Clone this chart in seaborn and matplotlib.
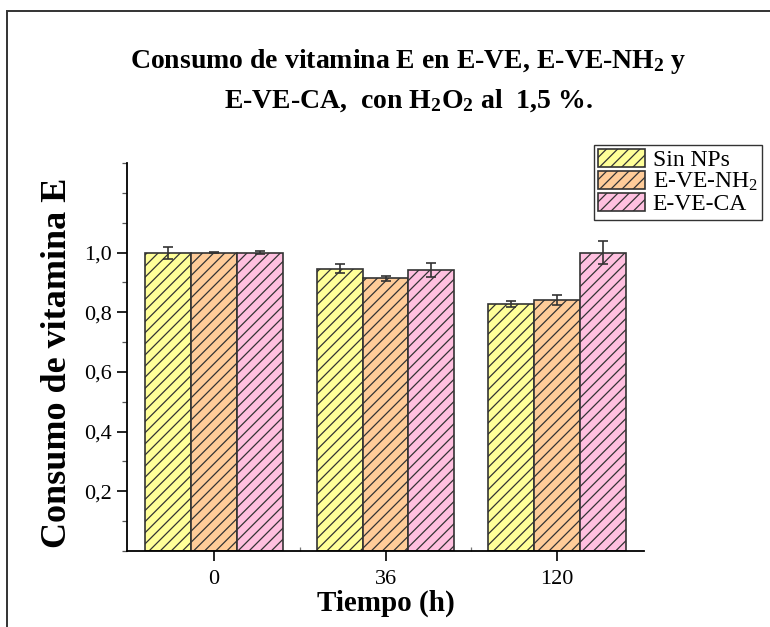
import matplotlib
matplotlib.use("Agg")
import matplotlib.pyplot as plt
from matplotlib.patches import Rectangle
from matplotlib.container import BarContainer
from matplotlib.ticker import MultipleLocator, FixedLocator
import numpy as np
import pandas as pd
import seaborn as sns

# Data
tiempos = ["0", "36", "120"]
series = ["Sin NPs", "E-VE-NH$_2$", "E-VE-CA"]
sin_nps = [1.000, 0.946, 0.827]
e_ve_nh2 = [1.000, 0.914, 0.841]
e_ve_ca = [1.000, 0.941, 1.000]
err_sin_nps = [0.020, 0.016, 0.011]
err_e_ve_nh2 = [0.002, 0.009, 0.016]
err_e_ve_ca = [0.005, 0.024, 0.040]

colors = ["#FFFF99", "#FFCC99", "#FFC0E0"]

df = pd.DataFrame({
    "Tiempo": tiempos * 3,
    "Serie": [s for s in series for _ in tiempos],
    "Valor": sin_nps + e_ve_nh2 + e_ve_ca,
})
errs = [err_sin_nps, err_e_ve_nh2, err_e_ve_ca]

sns.set_style("ticks")
plt.rcParams["font.family"] = ["Liberation Serif", "DejaVu Serif"]
plt.rcParams["mathtext.default"] = "regular"
plt.rcParams["hatch.linewidth"] = 0.9
plt.rcParams["hatch.color"] = "#2b2b2b"
plt.rcParams["text.color"] = "black"
plt.rcParams["axes.labelcolor"] = "black"

fig = plt.figure(figsize=(7.7, 6.27), dpi=100)
ax = fig.add_axes([127 / 770, 1 - 551 / 627, (644 - 127) / 770, (551 - 163) / 627])

sns.barplot(data=df, x="Tiempo", y="Valor", hue="Serie", order=tiempos,
            hue_order=series, palette=colors, errorbar=None, width=0.8,
            gap=0, ax=ax, edgecolor="#333333", linewidth=1.2, saturation=1)

# hatch every bar and add error bars at bar centres
bar_groups = [c for c in ax.containers if isinstance(c, BarContainer)]
for k, cont in enumerate(bar_groups):
    for j, bar in enumerate(cont.patches):
        bar.set_hatch("///")
        bar.set_edgecolor("#333333")
        xc = bar.get_x() + bar.get_width() / 2
        ax.errorbar(xc, bar.get_height(), yerr=errs[k][j], fmt="none",
                    ecolor="#333333", elinewidth=1.2, capsize=3.3,
                    capthick=1.2, zorder=5)

ax.set_xlim(-0.507, 2.507)
ax.set_ylim(0, 1.3)
ax.yaxis.set_major_locator(FixedLocator([0.2, 0.4, 0.6, 0.8, 1.0]))
ax.yaxis.set_minor_locator(MultipleLocator(0.1))
ax.xaxis.set_minor_locator(FixedLocator([0.5, 1.5]))
ax.set_yticklabels(["0,2", "0,4", "0,6", "0,8", "1,0"])

for s in ["top", "right"]:
    ax.spines[s].set_visible(False)
for s in ["left", "bottom"]:
    ax.spines[s].set_linewidth(1.3)
    ax.spines[s].set_color("black")

ax.tick_params(axis="both", which="major", direction="out", length=7,
               width=1.2, labelsize=16, colors="black", pad=4)
ax.tick_params(axis="x", which="major", pad=7)
ax.tick_params(axis="y", which="minor", direction="out", length=3.5,
               width=0.9, colors="#555555")
ax.tick_params(axis="x", which="minor", direction="in", length=3,
               width=0.9, colors="#777777")

ax.set_xlabel("Tiempo (h)", fontsize=21, fontweight="bold", labelpad=0)
ax.set_ylabel("Consumo de vitamina E", fontsize=26, fontweight="bold",
              labelpad=7)
ax.yaxis.label.set_y((551 - 363) / 388)

fig.text(0.5 + (408 - 385) / 770, 1 - 61 / 627,
         "Consumo de vitamina E en E-VE, E-VE-NH$_2$ y",
         ha="center", va="center", fontsize=20, fontweight="bold")
fig.text(0.5 + (408 - 385) / 770, 1 - 101 / 627,
         "E-VE-CA,  con H$_2$O$_2$ al  1,5 %.",
         ha="center", va="center", fontsize=20, fontweight="bold")

handles, labels = ax.get_legend_handles_labels()
for h in handles:
    h.set_hatch("///")
    h.set_edgecolor("#333333")
leg = ax.legend(handles, labels, loc="upper left",
                bbox_to_anchor=(594 / 770, 1 - 145 / 627),
                bbox_transform=fig.transFigure, fontsize=17, frameon=True,
                fancybox=False, edgecolor="black", handlelength=2.0,
                handleheight=0.75, handletextpad=0.3, labelspacing=0.0,
                borderpad=0.18, borderaxespad=0)
leg.get_frame().set_linewidth(1.0)

# outer frame of the figure
fig.add_artist(Rectangle((7 / 770, -0.05), 1.1, 1 - 11 / 627 + 0.05,
                         transform=fig.transFigure, fill=False,
                         edgecolor="#333333", linewidth=1.4, clip_on=False))

fig.savefig("out.png", dpi=100)
